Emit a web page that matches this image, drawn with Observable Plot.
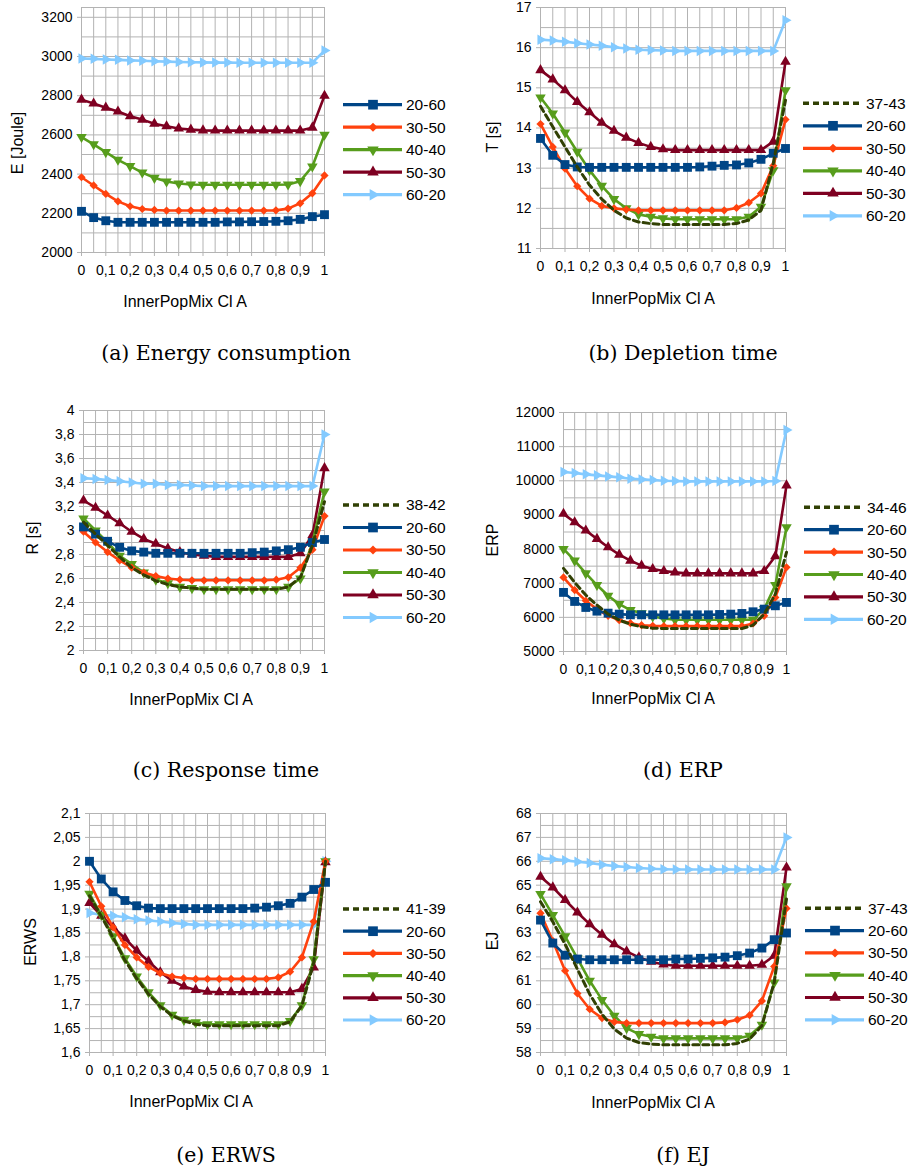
<!DOCTYPE html>
<html><head><meta charset="utf-8">
<script src="https://cdn.jsdelivr.net/npm/d3@7"></script>
<script src="https://cdn.jsdelivr.net/npm/@observablehq/plot@0.6"></script>
<style>
body{margin:0;background:#fff;}
#root{position:relative;width:911px;height:1171px;overflow:hidden;background:#fff;}
#root svg{position:absolute;}
</style></head><body><div id="root"></div>
<script>
// x values (InnerPopMix Cl A)
const mix = [0,0.05,0.1,0.15,0.2,0.25,0.3,0.35,0.4,0.45,0.5,0.55,0.6,0.65,0.7,0.75,0.8,0.85,0.9,0.95,1];
const xTicks = [0,0.1,0.2,0.3,0.4,0.5,0.6,0.7,0.8,0.9,1];

// (a) Energy consumption E [Joule]
const E_ticks = [2000,2200,2400,2600,2800,3000,3200];
const E_20_60 = [2210,2178,2162,2154,2154,2154,2154,2154,2154,2154,2154,2154,2156,2156,2157,2158,2159,2162,2169,2183,2193];
const E_30_50 = [2384,2342,2299,2261,2236,2222,2217,2214,2214,2214,2214,2214,2214,2214,2214,2214,2215,2224,2251,2302,2393];
const E_40_40 = [2589,2552,2512,2473,2441,2408,2381,2362,2352,2347,2346,2346,2346,2346,2346,2346,2346,2347,2364,2439,2601];
const E_50_30 = [2780,2760,2739,2719,2695,2678,2657,2644,2633,2627,2623,2622,2622,2622,2622,2622,2622,2622,2622,2637,2800];
const E_60_20 = [2990,2988,2985,2983,2980,2978,2976,2974,2972,2971,2970,2969,2969,2968,2968,2968,2968,2968,2968,2968,3030];

// (b) Depletion time T [s]
const T_ticks = [11,12,13,14,15,16,17];
const T_37_43 = [14.54,14.03,13.53,13.03,12.58,12.23,11.95,11.76,11.66,11.62,11.60,11.60,11.60,11.60,11.60,11.60,11.62,11.71,11.95,13.12,14.69];
const T_20_60 = [13.74,13.32,13.09,13.03,13.02,13.02,13.02,13.02,13.02,13.02,13.02,13.02,13.02,13.03,13.05,13.07,13.08,13.13,13.22,13.37,13.49];
const T_30_50 = [14.10,13.53,12.99,12.55,12.24,12.06,12.00,11.97,11.95,11.95,11.95,11.95,11.95,11.95,11.95,11.95,12.01,12.14,12.37,13.06,14.21];
const T_40_40 = [14.76,14.36,13.89,13.41,12.95,12.56,12.23,12.00,11.85,11.79,11.75,11.73,11.73,11.73,11.73,11.73,11.73,11.79,12.04,12.95,14.94];
const T_50_30 = [15.44,15.21,14.94,14.65,14.39,14.13,13.93,13.76,13.63,13.53,13.47,13.45,13.45,13.45,13.45,13.45,13.45,13.45,13.45,13.66,15.65];
const T_60_20 = [16.20,16.18,16.15,16.11,16.08,16.05,16.01,15.98,15.95,15.94,15.93,15.92,15.92,15.92,15.92,15.92,15.92,15.92,15.92,15.92,16.68];

// (c) Response time R [s]
const R_ticks = [2,2.2,2.4,2.6,2.8,3,3.2,3.4,3.6,3.8,4];
const R_38_42 = [3.07,2.97,2.875,2.78,2.69,2.63,2.58,2.55,2.53,2.52,2.51,2.51,2.51,2.51,2.51,2.51,2.51,2.53,2.61,2.875,3.24];
const R_20_60 = [3.03,2.97,2.91,2.86,2.83,2.82,2.81,2.81,2.81,2.81,2.81,2.81,2.81,2.81,2.815,2.82,2.83,2.84,2.86,2.90,2.925];
const R_30_50 = [2.99,2.90,2.82,2.75,2.69,2.65,2.62,2.60,2.59,2.585,2.585,2.585,2.585,2.585,2.585,2.585,2.59,2.61,2.69,2.84,3.12];
const R_40_40 = [3.10,3.00,2.90,2.79,2.72,2.65,2.59,2.56,2.53,2.52,2.51,2.51,2.51,2.51,2.51,2.51,2.51,2.53,2.60,2.90,3.325];
const R_50_30 = [3.25,3.19,3.125,3.06,2.99,2.93,2.89,2.85,2.82,2.80,2.79,2.78,2.78,2.78,2.78,2.78,2.78,2.78,2.81,2.96,3.52];
const R_60_20 = [3.436,3.43,3.42,3.41,3.40,3.39,3.39,3.38,3.38,3.375,3.37,3.37,3.37,3.37,3.37,3.37,3.37,3.37,3.37,3.37,3.80];

// (d) ERP
const ERP_ticks = [5000,6000,7000,8000,9000,10000,11000,12000];
const ERP_34_46 = [7436,7024,6652,6359,6094,5918,5800,5722,5683,5673,5673,5673,5673,5673,5673,5673,5673,5771,6094,6682,7906];
const ERP_20_60 = [6731,6466,6290,6182,6123,6094,6074,6074,6074,6074,6074,6074,6074,6074,6084,6094,6114,6163,6241,6339,6437];
const ERP_30_50 = [7171,6800,6486,6241,6045,5918,5830,5771,5751,5742,5742,5742,5742,5742,5742,5742,5742,5820,6045,6584,7465];
const ERP_40_40 = [8004,7661,7289,6946,6633,6388,6212,6123,6025,5967,5928,5928,5928,5928,5928,5928,5928,5928,6241,6946,8641];
const ERP_50_30 = [9032,8787,8543,8298,8053,7838,7661,7514,7416,7357,7318,7289,7289,7289,7289,7289,7289,7289,7357,7789,9865];
const ERP_60_20 = [10257,10227,10188,10159,10129,10100,10061,10041,10022,10002,9992,9982,9982,9982,9982,9982,9982,9982,9982,9995,11491];

// (e) ERWS
const ERWS_ticks = [1.6,1.65,1.7,1.75,1.8,1.85,1.9,1.95,2,2.05,2.1];
const ERWS_41_39 = [1.928,1.885,1.840,1.793,1.755,1.722,1.696,1.677,1.666,1.659,1.656,1.656,1.656,1.656,1.656,1.656,1.656,1.664,1.698,1.788,2.0];
const ERWS_20_60 = [2.0,1.963,1.936,1.918,1.907,1.902,1.901,1.901,1.901,1.901,1.901,1.901,1.901,1.901,1.902,1.904,1.907,1.912,1.925,1.941,1.956];
const ERWS_30_50 = [1.957,1.906,1.862,1.825,1.799,1.779,1.766,1.759,1.756,1.754,1.754,1.754,1.754,1.754,1.754,1.754,1.757,1.769,1.799,1.874,2.0];
const ERWS_40_40 = [1.932,1.888,1.843,1.797,1.759,1.726,1.699,1.679,1.668,1.663,1.659,1.659,1.659,1.659,1.659,1.659,1.659,1.666,1.699,1.795,2.0];
const ERWS_50_30 = [1.913,1.886,1.862,1.839,1.813,1.791,1.768,1.750,1.738,1.731,1.727,1.726,1.726,1.726,1.726,1.726,1.726,1.726,1.733,1.778,1.998];
const ERWS_60_20 = [1.892,1.888,1.886,1.883,1.879,1.876,1.874,1.871,1.869,1.867,1.867,1.867,1.867,1.867,1.867,1.867,1.867,1.867,1.867,1.867,2.0];

// (f) EJ
const EJ_ticks = [58,59,60,61,62,63,64,65,66,67,68];
const EJ_37_43 = [64.31,63.47,62.53,61.49,60.44,59.60,58.98,58.60,58.42,58.35,58.32,58.32,58.32,58.32,58.32,58.32,58.38,58.56,59.12,60.93,64.42];
const EJ_20_60 = [63.54,62.58,62.07,61.91,61.88,61.88,61.88,61.88,61.88,61.88,61.88,61.91,61.91,61.94,61.96,61.99,62.05,62.16,62.37,62.72,63.0];
const EJ_30_50 = [63.83,62.67,61.42,60.47,59.81,59.44,59.28,59.23,59.23,59.23,59.23,59.23,59.23,59.23,59.23,59.26,59.37,59.56,60.16,61.60,64.03];
const EJ_40_40 = [64.63,63.75,62.86,61.94,61.00,60.20,59.54,59.02,58.77,58.66,58.59,58.59,58.59,58.59,58.59,58.59,58.59,58.70,59.16,60.93,64.95];
const EJ_50_30 = [65.35,64.91,64.38,63.86,63.37,62.93,62.53,62.23,61.98,61.80,61.68,61.63,61.63,61.63,61.63,61.63,61.63,61.63,61.67,62.05,65.74];
const EJ_60_20 = [66.13,66.09,66.04,65.98,65.93,65.86,65.80,65.76,65.72,65.69,65.67,65.66,65.66,65.66,65.66,65.66,65.66,65.66,65.66,65.66,67.0];

// ---------- styles ----------
const sqrt3 = Math.sqrt(3);
const triDown = {draw(ctx, size){ const y = -Math.sqrt(size/(sqrt3*3)); ctx.moveTo(0,-2*y); ctx.lineTo(-sqrt3*y, y); ctx.lineTo(sqrt3*y, y); ctx.closePath(); }};
const triRight = {draw(ctx, size){ const y = -Math.sqrt(size/(sqrt3*3)); ctx.moveTo(-2*y,0); ctx.lineTo(y, -sqrt3*y); ctx.lineTo(y, sqrt3*y); ctx.closePath(); }};
const styles = {
  "20-60": {color:"#004586", symbol:d3.symbolSquare, r:5},
  "30-50": {color:"#ff420e", symbol:d3.symbolDiamond2, r:3.7},
  "40-40": {color:"#579d1c", symbol:triDown, r:3.9},
  "50-30": {color:"#7e0021", symbol:d3.symbolTriangle, r:3.9},
  "60-20": {color:"#83caff", symbol:triRight, r:3.9}
};
const dashColor = "#314004";
const gridColor = "#b3b3b3";
const fmt = v => String(Math.round(v*1000)/1000).replace(".", ",");

const panels = [
  {col:0, f:{l:81,r:324,t:7,b:252}, domain:[2000,3250], minor:100, yTicks:E_ticks,
   dashed:null, series:{"20-60":E_20_60,"30-50":E_30_50,"40-40":E_40_40,"50-30":E_50_30,"60-20":E_60_20},
   ytitle:"E [Joule]", yt:[17,143], xt:[185,307], lg:[343,104.7,22.5], caption:"(a) Energy consumption", cap:[226,360]},
  {col:1, f:{l:540,r:785,t:7,b:248}, domain:[11,17], minor:0.5, yTicks:T_ticks,
   dashed:["37-43",T_37_43], series:{"20-60":T_20_60,"30-50":T_30_50,"40-40":T_40_40,"50-30":T_50_30,"60-20":T_60_20},
   ytitle:"T [s]", yt:[492,137], xt:[653,304], lg:[803,103.3,22.5], caption:"(b) Depletion time", cap:[683,360]},
  {col:0, f:{l:83,r:324,t:410,b:650}, domain:[2,4], minor:0.1, yTicks:R_ticks,
   dashed:["38-42",R_38_42], series:{"20-60":R_20_60,"30-50":R_30_50,"40-40":R_40_40,"50-30":R_50_30,"60-20":R_60_20},
   ytitle:"R [s]", yt:[32,538], xt:[191,705], lg:[343,505,22.5], caption:"(c) Response time", cap:[226,777]},
  {col:1, f:{l:563,r:786,t:412,b:651}, domain:[5000,12000], minor:500, yTicks:ERP_ticks,
   dashed:["34-46",ERP_34_46], series:{"20-60":ERP_20_60,"30-50":ERP_30_50,"40-40":ERP_40_40,"50-30":ERP_50_30,"60-20":ERP_60_20},
   ytitle:"ERP", yt:[492,540], xt:[653,704], lg:[804,507.3,22.4], caption:"(d) ERP", cap:[683,777]},
  {col:0, f:{l:89,r:325,t:813,b:1052}, domain:[1.6,2.1], minor:0.025, yTicks:ERWS_ticks,
   dashed:["41-39",ERWS_41_39], series:{"20-60":ERWS_20_60,"30-50":ERWS_30_50,"40-40":ERWS_40_40,"50-30":ERWS_50_30,"60-20":ERWS_60_20},
   ytitle:"ERWS", yt:[30,942], xt:[191,1107], lg:[343,909,22.2], caption:"(e) ERWS", cap:[226,1162]},
  {col:1, f:{l:540,r:786,t:813,b:1052}, domain:[58,68], minor:0.5, yTicks:EJ_ticks,
   dashed:["37-43",EJ_37_43], series:{"20-60":EJ_20_60,"30-50":EJ_30_50,"40-40":EJ_40_40,"50-30":EJ_50_30,"60-20":EJ_60_20},
   ytitle:"EJ", yt:[492,941], xt:[653,1108], lg:[805,908.3,22.3], caption:"(f) EJ", cap:[683,1162]}
];

const root = document.getElementById("root");
const drawOrder = ["60-20","50-30","40-40","30-50","20-60"];
const legendOrder = ["20-60","30-50","40-40","50-30","60-20"];
const xGrid = mix;

for (const p of panels) {
  const colLeft = p.col ? 455 : 0, colW = p.col ? 456 : 455;
  const mt = 10, mb = 40;
  const W = colW, H = (p.f.b - p.f.t) + mt + mb;
  const yGrid = d3.range(p.domain[0], p.domain[1] + p.minor/2, p.minor).map(v => Math.round(v*10000)/10000).filter(v => v <= p.yTicks[p.yTicks.length-1] + 1e-9);
  const marks = [
    Plot.gridX(xGrid, {stroke:gridColor, strokeOpacity:1}),
    Plot.gridY(yGrid, {stroke:gridColor, strokeOpacity:1}),
    Plot.frame({stroke:gridColor}),
    Plot.axisX(xTicks, {tickSize:4, tickPadding:9, stroke:gridColor, fill:"#000", tickFormat:fmt, label:null}),
    Plot.axisY(p.yTicks, {tickSize:4, tickPadding:5, stroke:gridColor, fill:"#000", tickFormat:fmt, label:null})
  ];
  for (const name of drawOrder) {
    const st = styles[name];
    const rows = p.series[name].map((v,i) => ({x:mix[i], y:v}));
    marks.push(Plot.line(rows, {x:"x", y:"y", stroke:st.color, strokeWidth:2.6}));
    marks.push(Plot.dot(rows, {x:"x", y:"y", symbol:st.symbol, r:st.r, fill:st.color, stroke:"none"}));
  }
  if (p.dashed) {
    const rows = p.dashed[1].map((v,i) => ({x:mix[i], y:v}));
    marks.push(Plot.line(rows, {x:"x", y:"y", stroke:dashColor, strokeWidth:3, strokeDasharray:"6,4"}));
  }
  const chart = Plot.plot({
    width:W, height:H,
    marginLeft:p.f.l - colLeft, marginRight:colLeft + colW - p.f.r, marginTop:mt, marginBottom:mb,
    x:{domain:[0,1]}, y:{domain:p.domain},
    style:{fontFamily:"'Liberation Sans', Arial, sans-serif", fontSize:"14px", color:"#000", background:"transparent", overflow:"visible"},
    marks
  });
  chart.style.left = colLeft + "px";
  chart.style.top = (p.f.t - mt) + "px";
  root.appendChild(chart);
}

// overlay: axis titles, legends, captions
const ov = d3.create("svg").attr("width",911).attr("height",1171).style("left","0px").style("top","0px")
  .style("font-family","'Liberation Sans', Arial, sans-serif");
for (const p of panels) {
  ov.append("text").attr("transform",`translate(${p.yt[0]},${p.yt[1]}) rotate(-90)`)
    .attr("text-anchor","middle").attr("dy","0.35em").attr("font-size",16).attr("fill","#000").text(p.ytitle);
  ov.append("text").attr("x",p.xt[0]).attr("y",p.xt[1]).attr("text-anchor","middle")
    .attr("font-size",16).attr("fill","#000").text("InnerPopMix Cl A");
  ov.append("text").attr("x",p.cap[0]).attr("y",p.cap[1]).attr("text-anchor","middle")
    .attr("font-family","'DejaVu Serif', serif").attr("font-size",20.5).attr("fill","#000").text(p.caption);
  const [lx, ly0, ldy] = p.lg;
  const items = [];
  if (p.dashed) items.push({name:p.dashed[0], dashed:true});
  for (const n of legendOrder) items.push({name:n});
  items.forEach((it, i) => {
    const y = ly0 + i*ldy;
    const g = ov.append("g");
    if (it.dashed) {
      g.append("line").attr("x1",lx).attr("x2",lx+60).attr("y1",y).attr("y2",y)
        .attr("stroke",dashColor).attr("stroke-width",3.5).attr("stroke-dasharray","6,4");
    } else {
      const st = styles[it.name];
      g.append("line").attr("x1",lx).attr("x2",lx+59).attr("y1",y).attr("y2",y)
        .attr("stroke",st.color).attr("stroke-width",3.2);
      g.append("path").attr("transform",`translate(${lx+30},${y})`)
        .attr("d", d3.symbol(st.symbol, Math.PI*st.r*st.r*1.2)()).attr("fill",st.color);
    }
    g.append("text").attr("x",lx+63).attr("y",y).attr("dy","0.35em")
      .attr("font-size",15.5).attr("fill","#000").text(it.name);
  });
}
root.appendChild(ov.node());
</script>
</body></html>
